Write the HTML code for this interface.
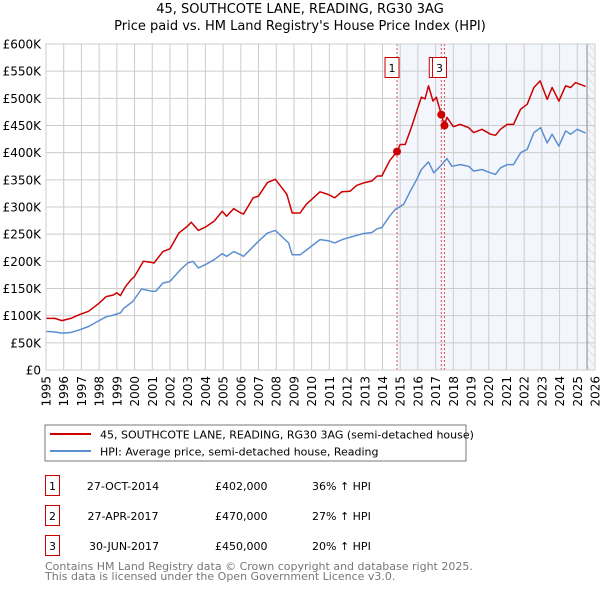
<!DOCTYPE html>
<html><head><meta charset="utf-8"><style>
body{margin:0;background:#fff;font-family:"DejaVu Sans","Liberation Sans",sans-serif;}
svg text{font-family:"DejaVu Sans","Liberation Sans",sans-serif;}
</style></head><body>
<svg id="c" width="600" height="590" viewBox="0 0 600 590" xmlns="http://www.w3.org/2000/svg">
<defs><pattern id="hatch" width="6" height="6" patternUnits="userSpaceOnUse" patternTransform="rotate(-45)"><line x1="0" y1="0" x2="0" y2="6" stroke="#ccc" stroke-width="1"/></pattern></defs>
<text x="300" y="13" text-anchor="middle" font-size="13">45, SOUTHCOTE LANE, READING, RG30 3AG</text>
<text x="300" y="30" text-anchor="middle" font-size="13">Price paid vs. HM Land Registry's House Price Index (HPI)</text>
<g id="plot"></g>
<rect x="45" y="425" width="421" height="36" fill="#fff" stroke="#777"/>
<line x1="50" y1="434" x2="91" y2="434" stroke="#cc0000" stroke-width="2"/>
<text x="100" y="438.5" font-size="11">45, SOUTHCOTE LANE, READING, RG30 3AG (semi-detached house)</text>
<line x1="50" y1="451" x2="91" y2="451" stroke="#5b8fd0" stroke-width="2"/>
<text x="100" y="455.5" font-size="11">HPI: Average price, semi-detached house, Reading</text>
<g font-size="11">
<rect x="45.5" y="475.5" width="14" height="20" fill="none" stroke="#cc0000"/><text x="52.5" y="490" text-anchor="middle">1</text>
<text x="123" y="490" text-anchor="middle">27-OCT-2014</text><text x="215" y="490">£402,000</text><text x="312" y="490">36% ↑ HPI</text>
<rect x="45.5" y="505.5" width="14" height="20" fill="none" stroke="#cc0000"/><text x="52.5" y="520" text-anchor="middle">2</text>
<text x="123" y="520" text-anchor="middle">27-APR-2017</text><text x="215" y="520">£470,000</text><text x="312" y="520">27% ↑ HPI</text>
<rect x="45.5" y="535.5" width="14" height="20" fill="none" stroke="#cc0000"/><text x="52.5" y="550" text-anchor="middle">3</text>
<text x="124" y="550" text-anchor="middle">30-JUN-2017</text><text x="215" y="550">£450,000</text><text x="312" y="550">20% ↑ HPI</text>
</g>
<text x="45" y="570" font-size="11" fill="#777">Contains HM Land Registry data © Crown copyright and database right 2025.</text>
<text x="45" y="580" font-size="11" fill="#777">This data is licensed under the Open Government Licence v3.0.</text>
</svg>
<script>
const yTicks=[0,50,100,150,200,250,300,350,400,450,500,550,600];
const yTickLabels=["£0","£50K","£100K","£150K","£200K","£250K","£300K","£350K","£400K","£450K","£500K","£550K","£600K"];
const xYears=[1995,1996,1997,1998,1999,2000,2001,2002,2003,2004,2005,2006,2007,2008,2009,2010,2011,2012,2013,2014,2015,2016,2017,2018,2019,2020,2021,2022,2023,2024,2025,2026];
const hpiYears=[1995.0,1995.5,1995.9,1996.4,1996.9,1997.4,1998.0,1998.4,1998.8,1999.0,1999.2,1999.4,1999.9,2000.4,2000.95,2001.2,2001.6,2002.0,2002.6,2003.0,2003.3,2003.6,2004.0,2004.5,2004.95,2005.2,2005.6,2006.0,2006.15,2007.0,2007.5,2007.95,2008.4,2008.7,2008.9,2009.35,2010.0,2010.47,2010.94,2011.3,2011.8,2012.36,2012.9,2013.4,2013.7,2013.96,2014.4,2014.7,2015.2,2015.57,2015.94,2016.2,2016.6,2016.9,2017.26,2017.64,2017.92,2018.4,2018.87,2019.15,2019.62,2020.1,2020.38,2020.66,2021.04,2021.4,2021.8,2022.17,2022.55,2022.92,2023.3,2023.58,2023.96,2024.34,2024.62,2025.0,2025.47];
const hpiValues=[71,70,68,69,74,80,91,98,101,103,105,114,126,149,145,145,160,163,185,197,200,188,194,203,214,209,218,212,209,237,252,257,243,234,212,212,228,240,238,234,241,246,251,253,260,262,283,295,305,329,351,369,383,363,375,389,375,378,375,366,369,363,360,372,378,378,400,406,437,446,418,434,412,440,434,443,436];
const priceYears=[1995.0,1995.5,1995.9,1996.4,1996.9,1997.4,1998.0,1998.4,1998.8,1999.0,1999.2,1999.5,1999.8,2000.0,2000.5,2000.95,2001.1,2001.6,2002.0,2002.5,2003.0,2003.2,2003.6,2004.0,2004.5,2004.95,2005.2,2005.6,2006.0,2006.15,2006.7,2007.0,2007.5,2007.95,2008.4,2008.6,2008.9,2009.35,2009.7,2010.1,2010.47,2010.94,2011.3,2011.7,2012.17,2012.55,2013.0,2013.4,2013.7,2013.96,2014.4,2014.82,2015.0,2015.28,2015.66,2015.94,2016.2,2016.4,2016.6,2016.85,2017.04,2017.32,2017.5,2017.64,2018.0,2018.4,2018.87,2019.15,2019.62,2020.1,2020.38,2020.66,2021.04,2021.4,2021.8,2022.17,2022.55,2022.9,2023.3,2023.58,2023.96,2024.34,2024.62,2024.9,2025.47];
const priceValues=[95,95,91,95,102,108,123,135,138,142,137,154,166,172,200,198,197,218,223,252,265,272,257,263,274,292,283,297,289,287,317,320,345,351,332,323,289,289,305,317,328,323,317,328,329,340,345,348,357,357,385,402,415,415,449,477,502,499,523,495,502,470,450,465,448,452,446,437,443,434,432,443,452,452,480,489,520,532,498,520,495,523,520,529,522];
const saleYears=[2014.82,2017.32,2017.5];
const saleValues=[402,470,450];
const saleLabels=["1","2","3"];
const shadeStart=2014.82, hatchStart=2025.55;

const NS="http://www.w3.org/2000/svg";
const X0=46,X1=595,Y0=370,Y1=44;
const xs=y=>X0+(y-1995)/(2026-1995)*(X1-X0);
const ys=v=>Y0-(v/600)*(Y0-Y1);
const g=document.getElementById('plot');
function mk(t,a){const e=document.createElementNS(NS,t);for(const k in a)e.setAttribute(k,a[k]);g.appendChild(e);return e;}
let e;
e=mk('rect',{x:xs(shadeStart),y:Y1,width:X1-xs(shadeStart),height:Y0-Y1,fill:'#eef3fc',opacity:0.7});


e=mk('rect',{x:xs(hatchStart),y:Y1,width:X1-xs(hatchStart),height:Y0-Y1,fill:'url(#hatch)'});


yTicks.forEach((v,i)=>{
  e=mk('line',{x1:X0,x2:X1,y1:ys(v),y2:ys(v),stroke:'#ccc','stroke-width':1});
  
  
  e=mk('text',{x:X0-5,y:ys(v)+4.5,'text-anchor':'end','font-size':12});
  e.textContent=yTickLabels[i];
  
  
});
xYears.forEach(yr=>{
  e=mk('line',{x1:xs(yr),x2:xs(yr),y1:Y1,y2:Y0,stroke:'#ccc','stroke-width':1});
  
  
  e=mk('text',{x:0,y:0,'font-size':12,'text-anchor':'end',transform:`translate(${xs(yr)+4.5},${Y0+6}) rotate(-90)`});
  e.textContent=yr;
  
  
});
e=mk('line',{x1:xs(hatchStart),x2:xs(hatchStart),y1:Y1,y2:Y0,stroke:'#888','stroke-width':1});


saleYears.forEach((yr,i)=>{
  e=mk('line',{x1:xs(yr),x2:xs(yr),y1:Y1,y2:Y0,stroke:'#e05050','stroke-width':1,'stroke-dasharray':'2,2'});
  
  
});
const pts=(xa,va)=>xa.map((y,i)=>xs(y).toFixed(1)+','+ys(va[i]).toFixed(1)).join(' ');
e=mk('polyline',{points:pts(hpiYears,hpiValues),fill:'none',stroke:'#5b8fd0','stroke-width':1.5,'stroke-linejoin':'round'});


e=mk('polyline',{points:pts(priceYears,priceValues),fill:'none',stroke:'#cc0000','stroke-width':1.5,'stroke-linejoin':'round'});


saleYears.forEach((yr,i)=>{
  e=mk('circle',{cx:xs(yr),cy:ys(saleValues[i]),r:4,fill:'#cc0000'});
  
  
});
saleYears.forEach((yr,i)=>{
  const bx=xs(yr)-11.5;
  e=mk('rect',{x:bx-0.5,y:57.5,width:14,height:20,fill:'#fff',stroke:'#cc0000'});
  
  
  e=mk('text',{x:bx+6.5,y:72,'text-anchor':'middle','font-size':11});
  e.textContent=saleLabels[i];
  
  
});
e=mk('rect',{x:X0,y:Y1,width:X1-X0,height:Y0-Y1,fill:'none',stroke:'#ccc'});


</script>
</body></html>
